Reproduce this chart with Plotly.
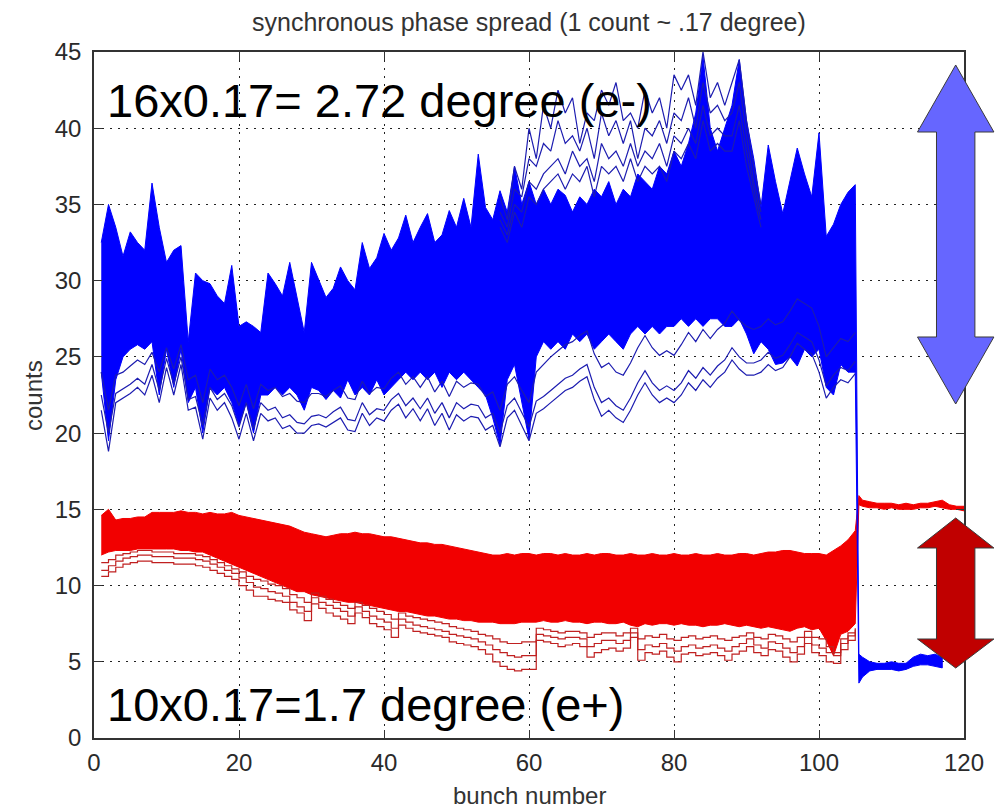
import plotly.graph_objects as go

# ---------------- data ----------------
bunch = list(range(1, 106))

# electron (blue) bunches: dense band edges
blue_top = [32.5, 35.0, 33.5, 31.6, 33.2, 32.5, 32.0, 36.4, 33.5, 31.2,
            32.0, 32.3, 26.0, 30.5, 30.0, 29.8, 29.0, 28.5, 31.0, 27.0,
            27.3, 27.0, 26.6, 30.5, 29.8, 29.0, 31.2, 29.0, 26.6, 31.2,
            30.0, 28.9, 29.5, 30.9, 30.0, 29.4, 32.5, 30.8, 31.5, 33.1,
            32.0, 32.8, 34.3, 32.5, 33.5, 34.4, 32.5, 33.0, 34.6, 33.5,
            35.4, 33.5, 38.3, 34.8, 34.0, 35.9, 34.5, 37.5, 35.0, 36.5,
            35.0, 36.0, 35.0, 36.0, 35.6, 34.5, 35.5, 35.0, 36.0, 35.5,
            36.5, 35.0, 36.0, 35.5, 37.0, 36.5, 36.0, 37.5, 37.0, 38.5,
            37.5, 39.0, 41.0, 44.7, 40.0, 38.5, 40.0, 41.5, 44.5, 40.5,
            38.0, 34.8, 38.9, 36.5, 34.4, 36.5, 38.7, 37.0, 35.5, 39.7,
            32.9, 33.7, 35.0, 35.8, 36.3]
blue_bottom = [24.0, 19.5, 23.5, 25.0, 25.5, 25.8, 25.5, 26.0, 22.5, 25.5,
               23.0, 25.5, 22.0, 23.0, 20.0, 23.0, 22.5, 23.0, 22.0, 20.5,
               22.0, 20.0, 22.5, 22.5, 23.0, 22.5, 23.0, 22.5, 21.5, 23.0,
               22.8, 22.2, 22.8, 22.3, 23.5, 22.5, 23.0, 22.5, 23.5, 22.5,
               23.0, 23.5, 24.0, 23.5, 24.0, 23.5, 24.0, 23.0, 24.0, 23.5,
               24.0, 23.5, 23.0, 22.5, 21.0, 19.2, 23.5, 24.5, 22.0, 19.6,
               25.0, 26.0, 25.5, 26.0, 25.5, 26.5, 26.0, 26.5, 25.5, 26.0,
               26.5, 26.0, 25.5, 26.5, 27.0, 26.5, 27.0, 26.5, 27.0, 27.0,
               27.5, 27.0, 27.5, 27.0, 27.5, 27.5, 27.0, 27.0, 27.5, 26.5,
               25.2, 26.0, 25.5, 24.5, 24.6, 25.0, 24.4, 25.5, 25.0, 25.5,
               23.0, 22.5, 24.5, 24.0, 24.0]
# separated lower blue traces
blue_low1 = [21.5, 18.8, 22.0, 22.3, 22.6, 23.0, 22.5, 23.8, 22.0, 24.3,
             22.5, 24.5, 21.5, 21.7, 19.6, 22.3, 21.5, 22.0, 21.0, 19.6,
             21.3, 19.5, 21.3, 20.8, 21.0, 20.3, 20.5, 20.0, 20.0, 20.5,
             20.6, 20.4, 20.7, 21.0, 20.2, 20.1, 21.3, 20.5, 21.0, 20.8,
             21.5, 21.9, 21.0, 21.6, 20.8, 21.6, 20.5, 21.3, 20.2, 21.2,
             20.8, 21.1, 21.0, 20.2, 20.5, 19.1, 21.0, 21.5, 20.5, 19.5,
             21.3, 21.6, 22.0, 22.4, 22.8, 23.0, 23.4, 23.7, 22.2, 21.1,
             21.5, 21.0, 20.7, 21.5, 22.5, 23.3, 22.5, 22.0, 22.3, 22.0,
             22.5, 23.3, 22.8, 23.5, 23.0, 23.6, 24.0, 24.8, 24.2, 23.8,
             23.8, 24.0, 24.5, 24.1, 24.3, 25.0, 25.9, 25.5, 25.2, 24.0,
             22.3, 23.0, 23.5, 23.3, 23.9]
blue_low2 = [22.5, 20.0, 22.6, 22.9, 23.2, 23.6, 23.2, 24.5, 22.8, 24.9,
             23.2, 25.0, 22.2, 22.4, 20.5, 23.0, 22.2, 22.6, 21.8, 20.4,
             22.0, 20.3, 22.0, 21.5, 21.7, 21.0, 21.2, 20.7, 20.6, 21.1,
             21.2, 21.0, 21.4, 21.7, 20.9, 20.8, 22.0, 21.2, 21.6, 21.5,
             22.2, 22.6, 21.8, 22.3, 21.6, 22.3, 21.3, 22.0, 21.0, 22.0,
             21.6, 21.9, 21.8, 21.0, 21.3, 20.0, 21.8, 22.3, 21.3, 20.4,
             22.1, 22.4, 22.8, 23.2, 23.6, 23.8, 24.2, 24.5, 23.0, 22.0,
             22.3, 21.8, 21.5, 22.3, 23.3, 24.1, 23.3, 22.8, 23.1, 22.8,
             23.3, 24.1, 23.6, 24.3, 23.8, 24.4, 24.8, 25.6, 25.0, 24.6,
             24.6, 24.8, 25.3, 24.9, 25.1, 25.8, 26.6, 26.3, 26.0, 24.8,
             23.1, 23.8, 24.3, 24.1, 24.7]
blue_low3 = [24.0, 21.5, 23.8, 24.0, 24.4, 24.8, 24.5, 25.3, 24.0, 25.6,
             24.2, 25.8, 23.5, 23.8, 22.0, 24.2, 23.5, 23.8, 23.0, 21.8,
             23.2, 21.6, 23.2, 22.8, 23.0, 22.4, 22.6, 22.1, 22.0, 22.6,
             22.6, 22.4, 22.8, 23.1, 22.3, 22.2, 23.4, 22.6, 23.0, 22.9,
             23.6, 24.0, 23.2, 23.7, 23.0, 23.7, 22.7, 23.4, 22.4, 23.4,
             23.0, 23.3, 23.2, 22.4, 22.7, 21.5, 23.2, 23.7, 22.8, 22.0,
             24.0, 24.5, 25.0, 25.4, 25.8, 26.0, 26.4, 26.7, 25.2, 24.3,
             24.6, 24.0, 23.8, 24.6, 25.6, 26.4, 25.6, 25.1, 25.4, 25.1,
             25.8, 26.6, 26.0, 26.8, 26.2, 26.8, 27.2, 28.0, 27.4, 27.0,
             26.8, 27.0, 27.5, 27.1, 27.3, 28.0, 28.8, 28.5, 28.2, 27.0,
             25.0, 25.6, 26.2, 26.0, 26.6]
# high blue outlier traces
blue_out_x = list(range(56, 93))
blue_out1 = [35.5, 34.0, 37.5, 36.0, 40.0, 38.0, 41.5, 40.0, 42.5, 41.0,
             42.0, 39.0, 41.0, 40.5, 42.5, 41.5, 43.0, 40.5, 41.0, 40.0,
             42.5, 41.0, 42.0, 40.0, 43.5, 42.5, 43.5, 41.5, 45.0, 42.0,
             43.0, 41.5, 43.0, 44.5, 40.5, 37.5, 35.0]
blue_out2 = [34.5, 33.5, 36.0, 35.5, 38.0, 37.5, 39.0, 38.5, 40.5, 39.0,
             39.5, 38.5, 40.0, 38.0, 41.0, 39.5, 40.5, 39.0, 40.5, 38.0,
             40.0, 39.5, 40.5, 39.0, 41.0, 40.5, 42.0, 40.0, 43.0, 41.0,
             41.5, 40.5, 41.0, 43.0, 39.5, 36.5, 34.5]
blue_out3 = [34.0, 33.0, 35.0, 34.5, 36.5, 36.0, 37.0, 37.5, 38.0, 37.0,
             38.5, 37.5, 38.0, 36.5, 39.0, 38.0, 38.5, 37.5, 39.0, 37.5,
             38.5, 38.0, 39.0, 37.5, 39.5, 39.0, 40.0, 39.0, 41.5, 39.5,
             40.0, 39.5, 39.5, 41.5, 38.5, 36.0, 34.0]
blue_out4 = [33.5, 32.5, 34.5, 33.5, 35.5, 35.0, 36.0, 36.5, 37.0, 36.0,
             37.0, 36.5, 37.5, 35.5, 37.5, 37.0, 37.5, 36.5, 38.0, 36.5,
             37.5, 37.0, 37.5, 36.5, 38.5, 38.0, 39.0, 38.0, 40.5, 38.5,
             39.0, 38.5, 38.5, 40.5, 37.5, 35.5, 33.5]
# blue after the jump
blue_tail_x = [105.5, 106, 107, 108, 109, 110, 111, 112, 113, 114, 115, 116, 117]
blue_tail_top = [5.5, 5.3, 5.0, 4.9, 4.9, 5.0, 4.9, 4.9, 5.3, 5.5, 5.4, 5.5, 5.3]
blue_tail_bottom = [3.6, 4.0, 4.4, 4.5, 4.5, 4.5, 4.4, 4.5, 4.7, 4.8, 4.8, 4.7, 4.6]

# positron (red) bunches
red_top = [14.6, 15.0, 14.3, 14.4, 14.4, 14.5, 14.5, 14.8, 14.8, 14.8,
           14.8, 14.9, 14.8, 14.8, 14.7, 14.8, 14.7, 14.7, 14.8, 14.6,
           14.5, 14.4, 14.3, 14.2, 14.1, 14.0, 13.9, 13.7, 13.5, 13.4,
           13.3, 13.2, 13.3, 13.4, 13.4, 13.5, 13.4, 13.4, 13.3, 13.2,
           13.2, 13.1, 13.0, 12.9, 12.8, 12.8, 12.7, 12.7, 12.6, 12.5,
           12.4, 12.3, 12.2, 12.1, 12.0, 12.0, 12.1, 12.0, 12.1, 12.1,
           12.0, 12.1, 12.1, 12.0, 12.1, 12.0, 12.0, 12.1, 12.0, 12.1,
           12.1, 12.0, 12.0, 12.1, 12.0, 12.0, 12.1, 12.0, 12.0, 12.1,
           12.0, 12.0, 12.1, 12.0, 12.0, 12.1, 12.0, 12.0, 12.1, 12.1,
           12.0, 12.1, 12.2, 12.2, 12.3, 12.3, 12.2, 12.1, 12.1, 12.1,
           12.0, 12.3, 12.6, 13.0, 13.6]
red_bottom = [12.0, 12.2, 12.3, 12.3, 12.3, 12.4, 12.4, 12.4, 12.4, 12.4,
              12.4, 12.3, 12.3, 12.2, 12.2, 12.0, 11.8, 11.6, 11.4, 11.2,
              11.0, 10.8, 10.6, 10.4, 10.2, 10.0, 9.8, 9.6, 9.6, 9.4,
              9.3, 9.2, 9.1, 9.0, 8.9, 8.9, 8.8, 8.7, 8.6, 8.5,
              8.4, 8.3, 8.3, 8.2, 8.1, 8.0, 8.0, 7.9, 7.8, 7.8,
              7.7, 7.7, 7.6, 7.6, 7.6, 7.5, 7.5, 7.5, 7.6, 7.6,
              7.6, 7.7, 7.6, 7.6, 7.7, 7.6, 7.6, 7.5, 7.6, 7.6,
              7.5, 7.5, 7.6, 7.4, 7.3, 7.5, 7.4, 7.5, 7.5, 7.4,
              7.5, 7.4, 7.4, 7.3, 7.4, 7.4, 7.5, 7.4, 7.3, 7.4,
              7.3, 7.2, 7.3, 7.2, 7.1, 7.0, 7.2, 7.3, 7.1, 7.2,
              6.4, 5.4, 6.8, 7.0, 7.5]
red_low1 = [10.6, 10.9, 11.2, 11.4, 11.5, 11.6, 11.6, 11.5, 11.5, 11.5,
            11.4, 11.4, 11.4, 11.3, 11.2, 11.0, 10.8, 10.6, 10.4, 10.0,
            9.7, 9.3, 9.3, 9.1, 9.0, 8.9, 8.4, 8.2, 7.7, 8.8,
            8.5, 8.2, 8.0, 7.8, 7.5, 8.2, 7.9, 7.5, 7.3, 7.1,
            6.6, 7.4, 7.2, 7.0, 6.9, 6.8, 6.7, 6.6, 6.3, 6.2,
            6.1, 6.0, 5.8, 5.5, 5.0, 4.7, 4.5, 4.4, 4.5, 4.5,
            6.4, 6.3, 6.2, 6.0, 6.1, 6.2, 6.0, 5.3, 5.6, 5.8,
            5.9, 5.7, 5.9, 6.6, 5.1, 5.6, 5.5, 5.7, 5.3, 5.0,
            5.5, 5.6, 5.4, 5.5, 5.6, 5.4, 5.1, 5.5, 5.7, 6.0,
            5.6, 5.4, 5.8, 5.7, 5.3, 5.0, 5.5, 6.2, 5.6, 5.4,
            5.0, 4.9, 5.8, 6.4, 6.9]
red_low2 = [11.0, 11.3, 11.6, 11.8, 11.9, 12.0, 12.0, 11.9, 11.9, 11.9,
            11.8, 11.8, 11.8, 11.7, 11.6, 11.4, 11.2, 11.0, 10.8, 10.5,
            10.2, 9.9, 9.8, 9.6, 9.5, 9.3, 8.9, 8.6, 8.3, 9.2,
            8.9, 8.7, 8.5, 8.3, 8.0, 8.6, 8.3, 8.0, 7.8, 7.6,
            7.2, 7.8, 7.6, 7.4, 7.3, 7.2, 7.1, 7.0, 6.8, 6.7,
            6.6, 6.5, 6.3, 6.1, 5.8, 5.6, 5.4, 5.3, 5.4, 5.4,
            6.8, 6.7, 6.6, 6.5, 6.6, 6.6, 6.5, 6.0, 6.2, 6.4,
            6.4, 6.2, 6.4, 6.9, 5.8, 6.1, 6.0, 6.2, 5.9, 5.7,
            6.0, 6.1, 5.9, 6.0, 6.1, 5.9, 5.7, 6.0, 6.2, 6.5,
            6.1, 5.9, 6.3, 6.2, 5.9, 5.6, 6.0, 6.6, 6.1, 5.9,
            5.6, 5.4, 6.2, 6.7, 7.1]
red_low3 = [11.5, 11.7, 12.0, 12.1, 12.2, 12.3, 12.3, 12.2, 12.2, 12.2,
            12.1, 12.1, 12.1, 12.0, 11.9, 11.7, 11.5, 11.3, 11.1, 10.9,
            10.6, 10.4, 10.3, 10.1, 10.0, 9.8, 9.4, 9.2, 8.9, 9.5,
            9.3, 9.1, 8.9, 8.7, 8.5, 8.9, 8.7, 8.5, 8.3, 8.1,
            7.8, 8.2, 8.0, 7.9, 7.8, 7.7, 7.6, 7.5, 7.3, 7.2,
            7.1, 7.0, 6.8, 6.7, 6.5, 6.3, 6.2, 6.2, 6.3, 6.3,
            7.2, 7.1, 7.0, 6.9, 7.0, 7.0, 6.9, 6.6, 6.8, 6.9,
            6.9, 6.7, 6.9, 7.2, 6.5, 6.7, 6.6, 6.8, 6.5, 6.4,
            6.6, 6.7, 6.5, 6.6, 6.7, 6.5, 6.4, 6.6, 6.7, 6.9,
            6.6, 6.5, 6.8, 6.7, 6.5, 6.3, 6.6, 7.0, 6.6, 6.5,
            6.0, 5.6, 6.5, 6.9, 7.2]
red_tail_x = [105.5, 106, 107, 108, 109, 110, 111, 112, 113, 114, 115, 116, 117, 118, 119, 120]
red_tail_top = [15.9, 15.6, 15.5, 15.4, 15.4, 15.4, 15.3, 15.4, 15.3, 15.4, 15.4, 15.5, 15.6, 15.3, 15.2, 15.2]
red_tail_bottom = [15.3, 15.2, 15.1, 15.1, 15.0, 15.1, 15.0, 15.0, 15.0, 15.1, 15.1, 15.2, 15.1, 15.0, 15.0, 14.9]

x_ticks = [0, 20, 40, 60, 80, 100, 120]
y_ticks = [0, 5, 10, 15, 20, 25, 30, 35, 40, 45]

title_text = "synchronous phase spread (1 count ~ .17 degree)"
x_title = "bunch number"
y_title = "counts"
note_e_minus = "16x0.17= 2.72 degree (e-)"
note_e_plus = "10x0.17=1.7 degree (e+)"

# ---------------- styling ----------------
BLUE = "#0000ff"
BLUE_LINE = "#1c1cb0"
RED = "#f20000"
RED_LINE = "#c02020"
FONT = "Liberation Sans, Arial, sans-serif"

W, H = 1005, 810
L, R, T, B = 94, 41, 52, 72
PW, PH = W - L - R, H - T - B

fig = go.Figure()

# red band (with the tail after the jump)
fig.add_trace(go.Scatter(
    x=bunch + red_tail_x + red_tail_x[::-1] + bunch[::-1],
    y=red_top + red_tail_top + red_tail_bottom[::-1] + red_bottom[::-1],
    mode="lines", fill="toself", fillcolor=RED,
    line=dict(color=RED, width=1), hoverinfo="skip", showlegend=False))
for ys in (red_low3, red_low2, red_low1):
    fig.add_trace(go.Scatter(x=bunch, y=ys, mode="lines",
                             line=dict(color=RED_LINE, width=1.2, shape="hv"),
                             showlegend=False, hoverinfo="skip"))

# blue band (with the tail after the jump)
fig.add_trace(go.Scatter(
    x=bunch + blue_tail_x + blue_tail_x[::-1] + bunch[::-1],
    y=blue_top + blue_tail_top + blue_tail_bottom[::-1] + blue_bottom[::-1],
    mode="lines", fill="toself", fillcolor=BLUE,
    line=dict(color=BLUE, width=1), hoverinfo="skip", showlegend=False))
for ys in (blue_low3, blue_low2, blue_low1):
    fig.add_trace(go.Scatter(x=bunch, y=ys, mode="lines",
                             line=dict(color=BLUE_LINE, width=1.2),
                             showlegend=False, hoverinfo="skip"))
for ys in (blue_out4, blue_out3, blue_out2, blue_out1):
    fig.add_trace(go.Scatter(x=blue_out_x, y=ys, mode="lines",
                             line=dict(color=BLUE_LINE, width=1.2),
                             showlegend=False, hoverinfo="skip"))


def pp(px, py):
    return f"{(px - L) / PW:.5f},{(T + PH - py) / PH:.5f}"


def double_arrow(top, head1, head2, bottom, cx=955.7, hw=38.2, sw=19.2):
    pts = [(cx, top), (cx + hw, head1), (cx + sw, head1), (cx + sw, head2),
           (cx + hw, head2), (cx, bottom), (cx - hw, head2), (cx - sw, head2),
           (cx - sw, head1), (cx - hw, head1)]
    return "M " + " L ".join(pp(a, b) for a, b in pts) + " Z"


shapes = [
    dict(type="path", xref="paper", yref="paper",
         path=double_arrow(65, 132, 337, 404),
         fillcolor="#6666ff", line=dict(color="#3a3a3a", width=1), layer="above"),
    dict(type="path", xref="paper", yref="paper",
         path=double_arrow(518, 548, 639, 668),
         fillcolor="#c00000", line=dict(color="#3a3a3a", width=1), layer="above"),
]

axis_common = dict(
    showgrid=True, gridcolor="#222222", gridwidth=1, griddash="2px,6px",
    showline=True, linecolor="#333333", linewidth=1.5, mirror="ticks",
    ticks="inside", ticklen=8, tickcolor="#333333", tickwidth=1.2,
    zeroline=False, tickfont=dict(family=FONT, size=24, color="#2a2a2a"),
)

fig.update_layout(
    width=W, height=H, margin=dict(l=L, r=R, t=T, b=B),
    paper_bgcolor="white", plot_bgcolor="white", showlegend=False,
    xaxis=dict(range=[0, 120], tickvals=x_ticks, ticktext=[str(v) for v in x_ticks],
               ticklabelstandoff=2, **axis_common),
    yaxis=dict(range=[0, 45], tickvals=y_ticks, ticktext=[str(v) for v in y_ticks],
               ticklabelstandoff=6, **axis_common),
    shapes=shapes,
    annotations=[
        dict(text=title_text, xref="paper", yref="paper", x=0.5, y=(T + PH - 22) / PH,
             xanchor="center", yanchor="middle", showarrow=False,
             font=dict(family=FONT, size=25, color="#333333")),
        dict(text=x_title, xref="paper", yref="paper", x=0.5, y=(T + PH - 795) / PH,
             xanchor="center", yanchor="middle", showarrow=False,
             font=dict(family=FONT, size=24, color="#333333")),
        dict(text=y_title, xref="paper", yref="paper", x=(33 - L) / PW, y=0.5,
             xanchor="center", yanchor="middle", textangle=-90, showarrow=False,
             font=dict(family=FONT, size=24, color="#333333")),
        dict(text=note_e_minus, xref="paper", yref="paper", x=(105 - L) / PW,
             y=(T + PH - 100) / PH, xanchor="left", yanchor="middle", showarrow=False,
             font=dict(family=FONT, size=47, color="black")),
        dict(text=note_e_plus, xref="paper", yref="paper", x=(105 - L) / PW,
             y=(T + PH - 704) / PH, xanchor="left", yanchor="middle", showarrow=False,
             font=dict(family=FONT, size=47, color="black")),
    ],
)

fig.write_html("out.html")
